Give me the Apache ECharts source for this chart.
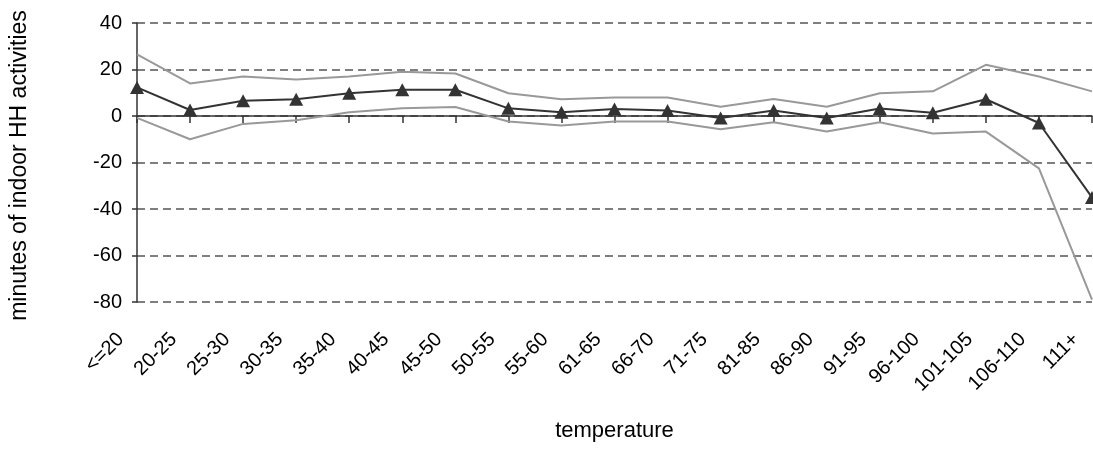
<!DOCTYPE html>
<html>
<head>
<meta charset="utf-8">
<script src="https://cdn.jsdelivr.net/npm/echarts@6/dist/echarts.min.js"></script>
<style>html,body{margin:0;padding:0;background:#fff;}#c{width:1093px;height:451px;}</style>
</head>
<body>
<div id="c"></div>
<script>
var categories = ['<=20','20-25','25-30','30-35','35-40','40-45','45-50','50-55','55-60','61-65','66-70','71-75','81-85','86-90','91-95','96-100','101-105','106-110','111+'];
var estimate = [12.3, 2.6, 6.6, 7.2, 9.8, 11.3, 11.3, 3.3, 1.6, 3.0, 2.4, -0.9, 2.4, -0.9, 3.2, 1.4, 7.2, -3.0, -35];
var upperBound = [26.5, 14, 17, 15.7, 17, 19, 18.3, 9.8, 7.2, 8, 8, 4, 7.3, 4, 9.8, 10.6, 22, 17, 10.6];
var lowerBound = [-0.8, -10, -3.4, -1.8, 1.6, 3.3, 3.9, -2.4, -4.1, -2.4, -2.4, -5.7, -2.7, -6.7, -2.7, -7.5, -6.7, -22.5, -79];
var yTicks = {min: -80, max: 40, interval: 20};

var font = 'Liberation Sans, Arial, sans-serif';
var chart = echarts.init(document.getElementById('c'), null, {renderer: 'canvas'});
chart.setOption({
  animation: false,
  backgroundColor: '#fff',
  grid: {left: 134, right: 1, top: 23, bottom: 149, containLabel: false},
  xAxis: [
    {
      type: 'category', data: categories, boundaryGap: false, position: 'bottom',
      axisLine: {show: false, onZero: false}, axisTick: {show: false}, splitLine: {show: false},
      axisLabel: {rotate: 45, interval: 0, fontSize: 20, color: '#000', fontFamily: font, margin: 18, padding: [0, 23, 0, 0]},
      name: 'temperature', nameLocation: 'middle', nameGap: 118,
      nameTextStyle: {fontSize: 22, color: '#000', fontFamily: font}
    },
    {
      type: 'category', data: categories, boundaryGap: false, position: 'bottom',
      axisLine: {show: true, onZero: true, lineStyle: {color: '#333', width: 1.5}},
      axisTick: {show: true, interval: 0, length: 7, lineStyle: {color: '#333', width: 1.5}},
      axisLabel: {show: false}, splitLine: {show: false}
    }
  ],
  yAxis: {
    type: 'value', min: yTicks.min, max: yTicks.max, interval: yTicks.interval,
    axisLine: {show: true, lineStyle: {color: '#333', width: 1.5}},
    axisTick: {show: true, length: 5, lineStyle: {color: '#333', width: 1.5}},
    axisLabel: {fontSize: 20, color: '#000', fontFamily: font, margin: 15},
    splitLine: {show: true, lineStyle: {color: '#555', type: [8, 5], width: 1.5}},
    name: 'minutes of indoor HH activities', nameLocation: 'middle', nameGap: 106,
    nameTextStyle: {fontSize: 23, color: '#000', fontFamily: font, padding: [0, 6, 0, 0]}
  },
  series: [
    {type: 'line', data: upperBound, symbol: 'none', lineStyle: {color: '#999', width: 2}, z: 2},
    {type: 'line', data: lowerBound, symbol: 'none', lineStyle: {color: '#999', width: 2}, z: 2},
    {type: 'line', data: estimate, symbol: 'triangle', symbolSize: [14, 13], showAllSymbol: true,
     itemStyle: {color: '#333'}, lineStyle: {color: '#333', width: 2}, z: 3}
  ]
});
</script>
</body>
</html>
